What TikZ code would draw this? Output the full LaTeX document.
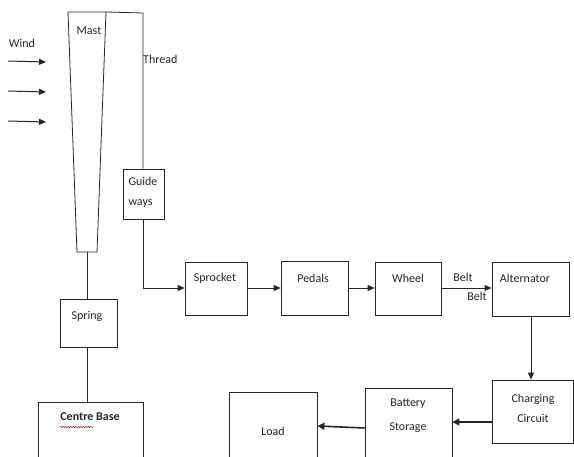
\documentclass[tikz,border=0pt]{standalone}
\usepackage{fontspec}
\setmainfont{Carlito}
\usetikzlibrary{arrows.meta,fit,decorations.pathmorphing}
\begin{document}
\begin{tikzpicture}[x=1pt,y=-1pt,
  ln/.style={line width=0.8pt,draw=black!85},
  box/.style={ln,inner sep=0pt,rectangle},
  txt/.style={font=\fontsize{12}{14}\selectfont,inner sep=0pt,text=black!85},
  arr/.style={ln,-{Triangle[length=7pt,width=6pt]}},
  thickarr/.style={line width=1.6pt,draw=black!85,-{Triangle[length=7pt,width=7pt]}}]
\useasboundingbox (0,0) rectangle (574,457);
\clip (0,0) rectangle (574,457);
\fill[white] (0,0) rectangle (574,457);
% wind
\node[txt] (wind) at (22,43) {Wind};
\coordinate (w1s) at (8,61); \coordinate (w1e) at (46,62);
\coordinate (w2s) at (8,91); \coordinate (w2e) at (46,92);
\coordinate (w3s) at (8,121); \coordinate (w3e) at (46,122);
\draw[arr,line width=1pt] (w1s) -- (w1e);
\draw[arr,line width=1pt] (w2s) -- (w2e);
\draw[arr,line width=1pt] (w3s) -- (w3e);
% mast
\coordinate (mtl) at (68,12); \coordinate (mtr) at (106,12);
\coordinate (mbr) at (97,252); \coordinate (mbl) at (77,252);
\coordinate (mbot) at (87,252);
\draw[ln] (mtl) -- (mtr) -- (mbr) -- (mbl) -- cycle;
\node[txt] (mast) at (89,31) {Mast};
% thread
\coordinate (tc) at (143,13);
\node[box,fit={(123,169) (164,219)}] (guide) {};
\node[txt,align=left] (guidetxt) at (143,192) {Guide\\[6pt]ways};
\draw[ln] (mtr) -- (tc) -- (tc |- guide.north);
\node[txt,anchor=west] (thread) at (143,59) {Thread};
% chain
\node[box,fit={(185,262) (247,315)}] (spr) {};
\node[txt] at (215,278) {Sprocket};
\node[box,fit={(281,261) (348,315)}] (ped) {};
\draw[line width=1.6pt,draw=black!85] (ped.south west) -- (ped.south east);
\node[txt] at (313,278) {Pedals};
\node[box,fit={(375,262) (441,315)}] (whl) {};
\node[txt] at (408,278) {Wheel};
\node[box,fit={(492,262) (569,316)}] (alt) {};
\node[txt] at (525,278) {Alternator};
\coordinate (gcorner) at (143,288);
\draw[arr] (guide.south -| gcorner) -- (gcorner) -- (gcorner -| spr.west);
\draw[arr] (spr.east |- 0,288) -- (ped.west |- 0,288);
\draw[arr] (ped.east |- 0,288) -- (whl.west |- 0,288);
\draw[arr] (whl.east |- 0,288) -- (alt.west |- 0,288);
\node[txt] (belt1) at (463,277) {Belt};
\node[txt] (belt2) at (477,296) {Belt};
% spring and base
\node[box,fit={(60,299) (117,347)}] (spring) {};
\node[txt] at (87,316) {Spring};
\node[box,fit={(38,402) (143,470)}] (base) {};
\node[txt,font=\fontsize{12}{14}\selectfont\bfseries] (basetxt) at (90,417) {Centre Base};
\draw[red!80!black,line width=0.4pt,decorate,decoration={snake,amplitude=0.8pt,segment length=2.5pt}] (60,427) -- (93,427);
\draw[ln] (mbot) -- (spring.north -| mbot);
\draw[ln] (spring.south -| mbot) -- (base.north -| mbot);
% charging
\node[box,fit={(492,380) (573,443)}] (chg) {};
\node[txt,align=center] at (533,408) {Charging\\[6pt]Circuit};
\draw[arr] (alt.south -| 531,0) -- (chg.north -| 531,0);
\node[box,fit={(365,388) (452,470)}] (bat) {};
\node[txt,align=center] at (408,416) {Battery\\[10pt]Storage};
\node[box,fit={(229,392) (317,470)}] (load) {};
\node[txt] at (273,431) {Load};
\draw[thickarr] (chg.west |- 0,422) -- (bat.east |- 0,422);
\draw[thickarr] (bat.west |- 0,428) -- (load.east |- 0,426);
\end{tikzpicture}
\end{document}
